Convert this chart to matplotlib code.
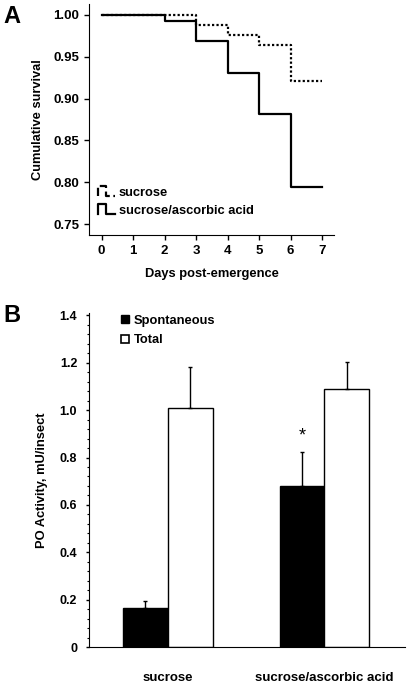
import matplotlib.pyplot as plt
import numpy as np
from matplotlib.lines import Line2D
from matplotlib.legend_handler import HandlerBase
from matplotlib.ticker import MultipleLocator, FixedLocator

plt.rcParams['font.family'] = ['Liberation Sans', 'DejaVu Sans']
plt.rcParams['font.weight'] = 'bold'

# panel A data: Kaplan-Meier style survival per day
days = [0, 1, 2, 3, 4, 5, 6, 7]
surv_sucrose = [1.0, 1.0, 1.0, 0.988, 0.976, 0.964, 0.921, 0.921]
surv_ascorbic = [1.0, 1.0, 0.993, 0.969, 0.931, 0.882, 0.794, 0.794]
surv_labels = ['sucrose', 'sucrose/ascorbic acid']

# panel B data: PO activity
groups = ['sucrose', 'sucrose/ascorbic acid']
spont_mean = [0.165, 0.68]
spont_err = [0.03, 0.145]
total_mean = [1.01, 1.09]
total_err = [0.17, 0.115]
bar_labels = ['Spontaneous', 'Total']


class StepHandler(HandlerBase):
    # draws a little step shape as the legend key
    def create_artists(self, legend, orig_handle, xdescent, ydescent,
                       width, height, fontsize, trans):
        x0 = -xdescent
        y0 = -ydescent
        xs = [x0, x0, x0 + 0.45 * width, x0 + 0.45 * width, x0 + width]
        ys = [y0 + 0.1 * height, y0 + 0.95 * height, y0 + 0.95 * height,
              y0 + 0.1 * height, y0 + 0.1 * height]
        ln = Line2D(xs, ys, color='black', lw=orig_handle.get_linewidth(),
                    linestyle=orig_handle.get_linestyle())
        ln.set_transform(trans)
        return [ln]


fig = plt.figure(figsize=(4.09, 6.83), dpi=100)

# ---------------- panel A ----------------
ax1 = fig.add_axes([0.2176, 0.656, 0.599, 0.338])
l1, = ax1.step(days, surv_sucrose, where='post', color='black', lw=1.6,
               linestyle=(0, (1, 1)), zorder=2)
l2, = ax1.step(days, surv_ascorbic, where='post', color='black', lw=1.6,
               zorder=3)
ax1.set_xlim(-0.4, 7.38)
ax1.set_ylim(0.737, 1.013)
ax1.xaxis.set_major_locator(FixedLocator(days))
ax1.yaxis.set_major_locator(MultipleLocator(0.05))
ax1.yaxis.set_major_formatter(plt.FormatStrFormatter('%.2f'))
ax1.spines['right'].set_color('none')
ax1.spines['top'].set_color('none')
ax1.tick_params(direction='out', length=3.5, width=1, labelsize=9.5)
ax1.set_xlabel('Days post-emergence', fontsize=9.3, fontweight='bold', labelpad=8)
ax1.set_ylabel('Cumulative survival', fontsize=9.3, fontweight='bold', labelpad=7)
ax1.legend([l1, l2], surv_labels, handler_map={Line2D: StepHandler()},
           loc='lower left', bbox_to_anchor=(0.0, 0.04), frameon=False,
           fontsize=9.3, handlelength=1.3, handleheight=0.9, handletextpad=0.3,
           labelspacing=0.4, borderaxespad=0.3)

# ---------------- panel B ----------------
ax2 = fig.add_axes([0.2176, 0.0527, 0.773, 0.489])
x = np.arange(len(groups))
w = 0.286
ax2.bar(x - w / 2, spont_mean, w, color='black', edgecolor='black', lw=1,
        label=bar_labels[0])
ax2.bar(x + w / 2, total_mean, w, color='white', edgecolor='black', lw=1,
        label=bar_labels[1])
ax2.errorbar(x - w / 2, spont_mean, yerr=[np.zeros(2), spont_err], fmt='none',
             ecolor='black', elinewidth=1, capsize=1.5, capthick=1)
ax2.errorbar(x + w / 2, total_mean, yerr=[np.zeros(2), total_err], fmt='none',
             ecolor='black', elinewidth=1, capsize=1.5, capthick=1)
ax2.text(x[1] - w / 2, spont_mean[1] + spont_err[1] + 0.03, '*', ha='center',
         va='bottom', fontsize=13, fontweight='normal')
ax2.set_xlim(-0.503, 1.515)
ax2.set_ylim(0, 1.41)
ax2.set_xticks(x)
ax2.set_xticklabels(groups)
ax2.yaxis.set_minor_locator(MultipleLocator(0.04))
ax2.set_yticks([0, 0.2, 0.4, 0.6, 0.8, 1.0, 1.2, 1.4])
ax2.set_yticklabels(['0', '0.2', '0.4', '0.6', '0.8', '1.0', '1.2', '1.4'])
ax2.spines['right'].set_color('none')
ax2.spines['top'].set_color('none')
ax2.tick_params(axis='y', which='major', direction='out', length=2.5, width=1,
                labelsize=9, pad=6)
ax2.tick_params(axis='y', which='minor', direction='out', length=1.5, width=0.8)
ax2.tick_params(axis='x', length=0, labelsize=9.5, pad=18)
ax2.set_ylabel('PO Activity, mU/insect', fontsize=9.3, fontweight='bold',
               labelpad=8)
handles = [Line2D([], [], marker='s', color='none', markerfacecolor='black',
                  markeredgecolor='black', markersize=5.5),
           Line2D([], [], marker='s', color='none', markerfacecolor='white',
                  markeredgecolor='black', markeredgewidth=1.2, markersize=5.5)]
ax2.legend(handles, bar_labels, loc='upper left', bbox_to_anchor=(0.06, 1.03),
           frameon=False, fontsize=9.3, handlelength=0.8, handletextpad=0.3,
           labelspacing=0.6)

fig.text(0.008, 0.993, 'A', fontsize=17, fontweight='bold', va='top')
fig.text(0.008, 0.555, 'B', fontsize=17, fontweight='bold', va='top')

fig.savefig('out.png', dpi=100)
